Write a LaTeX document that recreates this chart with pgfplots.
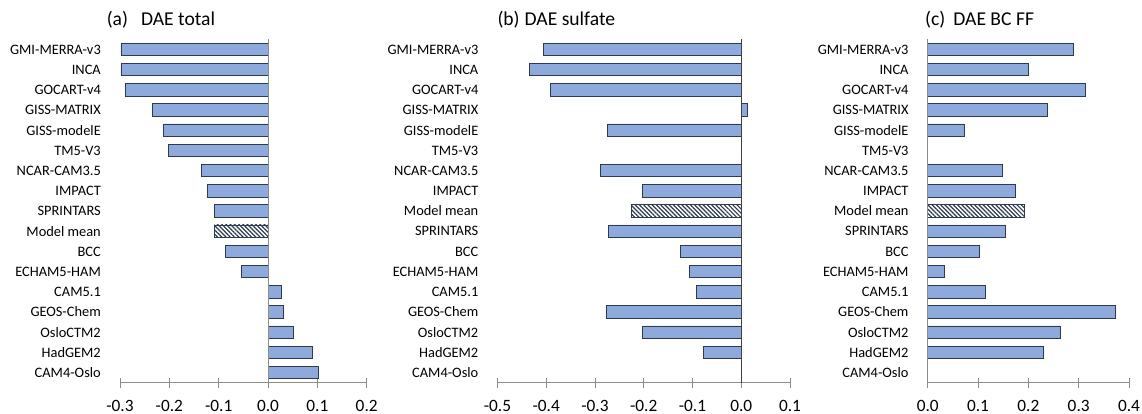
\documentclass[border=0pt]{standalone}
\usepackage{fontspec}
\setmainfont{Carlito}
\usepackage{pgfplots}
\pgfplotsset{compat=1.18}
\usetikzlibrary{patterns.meta}
\definecolor{barfill}{HTML}{8EA9DB}
\definecolor{baredge}{HTML}{2E3A50}
\definecolor{axgray}{HTML}{8C8C8C}
\newcommand{\tfont}{\fontsize{19.6}{23}\selectfont}
\newcommand{\kfont}{\fontsize{17.3}{20}\selectfont}
\newcommand{\lfont}{\fontsize{14.4}{17}\selectfont}

\pgfplotsset{
  daeaxis/.style={
    scale only axis,
    height=343.4pt,
    ymin=-0.5, ymax=16.5,
    axis x line*=bottom,
    axis y line*=left,
    y axis line style={draw=none},
    x axis line style={draw=axgray, line width=0.9pt, -},
    ytick={0,...,16},
    ytick style={draw=none},
    xtick style={draw=axgray, line width=0.9pt},
    tick align=center,
    major tick length=10pt,
    yticklabel style={font=\lfont, anchor=east, inner sep=0pt, xshift=-14pt},
    xticklabel style={font=\kfont, anchor=base, inner sep=0pt, yshift=-24pt},
    title style={font=\tfont, anchor=base west, inner sep=0pt, yshift=7.8pt},
    clip=false,
  },
  barsty/.style={xbar, bar width=12.5pt, bar shift=0pt, fill=barfill, draw=baredge, line width=0.8pt},
  meansty/.style={xbar, bar width=12.5pt, bar shift=0pt, fill=white, draw=baredge, line width=0.8pt,
    postaction={pattern={Lines[angle=-45, distance=3pt, line width=1.2pt]}, pattern color=baredge}},
}

\begin{document}
\begin{tikzpicture}
\path[use as bounding box] (0,0) rectangle (1142pt,414pt);

% (a) DAE total
\begin{axis}[daeaxis,
  at={(120pt,31.3pt)}, anchor=south west,
  width=246.7pt,
  xmin=-0.3, xmax=0.2,
  xtick={-0.3,-0.2,-0.1,0,0.1,0.2},
  xticklabels={-0.3,-0.2,-0.1,0.0,0.1,0.2},
  yticklabels={CAM4-Oslo,HadGEM2,OsloCTM2,GEOS-Chem,CAM5.1,ECHAM5-HAM,BCC,Model mean,SPRINTARS,IMPACT,NCAR-CAM3.5,TM5-V3,GISS-modelE,GISS-MATRIX,GOCART-v4,INCA,GMI-MERRA-v3},
  title={(a)\hspace{13pt}DAE total},
  title style={at={(-0.0543,1)}},
]
\addplot[barsty] coordinates {
  (0.103,0) (0.090,1) (0.051,2) (0.032,3) (0.028,4) (-0.054,5) (-0.087,6)
  (-0.109,8) (-0.123,9) (-0.135,10) (-0.201,11) (-0.212,12) (-0.235,13)
  (-0.289,14) (-0.298,15) (-0.298,16)};
\addplot[meansty] coordinates {(-0.109,7)};
\addplot[draw=axgray, line width=0.9pt] coordinates {(0,-0.5) (0,16.5)};
\end{axis}

% (b) DAE sulfate
\begin{axis}[daeaxis,
  at={(497.5pt,31.3pt)}, anchor=south west,
  width=292.5pt,
  xmin=-0.5, xmax=0.1,
  xtick={-0.5,-0.4,-0.3,-0.2,-0.1,0,0.1},
  xticklabels={-0.5,-0.4,-0.3,-0.2,-0.1,0.0,0.1},
  yticklabels={CAM4-Oslo,HadGEM2,OsloCTM2,GEOS-Chem,CAM5.1,ECHAM5-HAM,BCC,SPRINTARS,Model mean,IMPACT,NCAR-CAM3.5,TM5-V3,GISS-modelE,GISS-MATRIX,GOCART-v4,INCA,GMI-MERRA-v3},
  title={(b)\hspace{5pt}DAE sulfate},
  title style={at={(-0.0007,1)}},
]
\addplot[barsty] coordinates {
  (-0.078,1) (-0.202,2) (-0.277,3) (-0.092,4) (-0.106,5) (-0.124,6) (-0.272,7)
  (-0.203,9) (-0.288,10) (-0.275,12) (0.013,13) (-0.392,14) (-0.434,15) (-0.405,16)};
\addplot[meansty] coordinates {(-0.225,8)};
\addplot[draw=black!75, line width=0.9pt] coordinates {(0,-0.5) (0,16.5)};
\end{axis}

% (c) DAE BC FF
\begin{axis}[daeaxis,
  at={(927.7pt,31.3pt)}, anchor=south west,
  width=201.3pt,
  xmin=0, xmax=0.4,
  xtick={0,0.1,0.2,0.3,0.4},
  xticklabels={0.0,0.1,0.2,0.3,0.4},
  yticklabels={CAM4-Oslo,HadGEM2,OsloCTM2,GEOS-Chem,CAM5.1,ECHAM5-HAM,BCC,SPRINTARS,Model mean,IMPACT,NCAR-CAM3.5,TM5-V3,GISS-modelE,GISS-MATRIX,GOCART-v4,INCA,GMI-MERRA-v3},
  title={(c)\hspace{8pt}DAE BC FF},
  title style={at={(-0.0134,1)}},
]
\addplot[barsty] coordinates {
  (0.229,1) (0.264,2) (0.372,3) (0.115,4) (0.033,5) (0.103,6) (0.155,7)
  (0.174,9) (0.148,10) (0.072,12) (0.238,13) (0.313,14) (0.201,15) (0.290,16)};
\addplot[meansty] coordinates {(0.193,8)};
\addplot[draw=axgray, line width=0.9pt] coordinates {(0,-0.5) (0,16.5)};
\end{axis}
\end{tikzpicture}
\end{document}
